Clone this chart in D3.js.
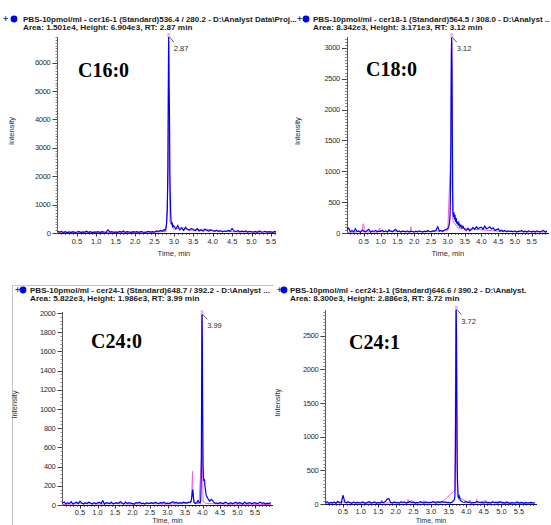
<!doctype html>
<html lang="en">
<head>
<meta charset="utf-8">
<title>Ceramide standards XIC</title>
<script src="https://cdn.jsdelivr.net/npm/d3@7"></script>
<style>
  body { margin: 0; background: #fff; }
  svg { display: block; }
</style>
</head>
<body>
<script>
// ---- data ----
var tags = ["C16:0", "C18:0", "C24:0", "C24:1"];
var headLines = [
  "PBS-10pmol/ml - cer16-1 (Standard)536.4 / 280.2 - D:\\Analyst Data\\Proj...",
  "PBS-10pmol/ml - cer18-1 (Standard)564.5 / 308.0 - D:\\Analyst ..",
  "PBS-10pmol/ml - cer24-1 (Standard)648.7 / 392.2 - D:\\Analyst ...",
  "PBS-10pmol/ml - cer24:1-1 (Standard)646.6 / 390.2 - D:\\Analyst."
];
var areaLines = [
  "Area: 1.501e4, Height: 6.904e3, RT: 2.87 min",
  "Area: 8.342e3, Height: 3.171e3, RT: 3.12 min",
  "Area: 5.822e3, Height: 1.986e3, RT: 3.99 min",
  "Area: 8.300e3, Height: 2.886e3, RT: 3.72 min"
];
var apexRT = [2.87, 3.12, 3.99, 3.72];
var apexHeight = [6904, 3171, 1986, 2886];
var yMax = [6904, 3171, 2010, 2886];

var yTicks16 = [0, 1000, 2000, 3000, 4000, 5000, 6000];
var yTicks18 = [0, 500, 1000, 1500, 2000, 2500, 3000];
var yTicks24 = [0, 200, 400, 600, 800, 1000, 1200, 1400, 1600, 1800, 2000];
var yTicks241 = [0, 500, 1000, 1500, 2000, 2500];
var xTicks = [0.5, 1.0, 1.5, 2.0, 2.5, 3.0, 3.5, 4.0, 4.5, 5.0, 5.5];

// baseline intensity, one value every 0.05 min from 0.00 to 5.95
var base16 = [60,30,55,20,45,15,40,25,50,20, 35,55,20,40,30,65,25,45,15,40,
  30,50,20,45,35,25,110,30,45,20, 40,25,55,30,70,20,45,35,25,50,
  30,45,20,55,35,25,40,60,30,45, 35,70,50,90,60,120,140,180,220,260,
  240,150,260,110,170,90,200,130,100,160, 120,80,150,70,110,60,130,90,70,110,
  80,60,95,50,85,45,70,55,90,60, 160,70,55,80,40,65,50,75,35,60,
  45,30,55,25,70,40,35,60,30,50, 40,25,55,35,30,50,25,45,35,40];
var base18 = [50,80,20,40,15,70,25,35,10,45, 30,20,40,60,15,35,25,40,20,30,
  25,45,20,35,15,50,30,20,40,60, 20,35,15,30,25,20,35,15,30,25,
  15,30,20,35,25,15,30,20,40,25, 20,35,30,45,100,30,40,25,50,60,
  70,90,150,300,500,400,300,200,150,120, 60,40,75,35,55,90,60,100,70,85,
  95,60,110,70,80,100,65,85,40,55, 70,30,45,25,40,20,35,25,30,20,
  35,15,30,25,40,20,30,15,35,25, 20,30,15,35,25,20,30,40,15,30];
var base24 = [20,30,10,25,15,35,10,20,30,15, 40,20,10,25,15,30,20,10,25,15,
  20,30,15,45,10,25,20,15,30,10, 20,25,15,35,20,10,30,15,25,20,
  15,10,25,20,30,15,20,10,25,15, 20,25,15,30,20,15,25,20,30,15,
  20,15,25,35,20,30,15,25,20,30, 25,20,30,40,25,30,20,35,25,40,
  30,45,35,25,20,30,15,25,20,15, 25,20,15,30,20,10,25,15,20,30,
  15,25,20,10,30,15,20,25,15,20, 25,15,20,30,15,25,10,20,15,25];
var base241 = [20,35,10,25,15,30,10,40,20,15, 130,30,15,35,20,10,30,15,25,20,
  15,30,20,10,25,35,15,20,30,10, 25,15,30,20,35,70,80,25,15,30,
  20,25,15,35,20,30,15,25,35,20, 30,15,25,20,35,25,15,30,20,25,
  20,35,25,15,30,20,35,25,30,20, 25,15,35,20,30,25,15,20,30,25,
  35,20,30,15,25,20,35,30,20,25, 15,30,20,25,15,35,20,25,15,30,
  20,25,15,30,20,10,25,15,20,30, 15,25,20,10,25,15,20,25,15,20];

// peak region, [time (min), intensity]
var peak16 = [[2.77,90],[2.79,160],[2.81,320],[2.83,800],[2.845,2400],[2.855,4600],
  [2.865,6904],[2.875,5200],[2.885,4400],[2.895,2300],[2.905,1400],[2.915,800],
  [2.925,450],[2.94,300],[2.955,380],[2.97,200],[2.985,260]];
var peak18 = [[3.01,80],[3.03,110],[3.05,160],[3.07,320],[3.085,900],[3.095,2000],
  [3.105,2900],[3.115,3171],[3.125,2700],[3.135,1600],[3.145,700],[3.155,320],
  [3.17,260],[3.185,330],[3.2,220],[3.215,290],[3.23,180],[3.25,240],[3.27,150],
  [3.29,190],[3.31,120],[3.33,160],[3.36,100],[3.39,130],[3.42,80],[3.45,110]];
var peak24 = [[3.65,25],[3.68,45],[3.7,100],[3.72,160],[3.74,80],[3.76,30],[3.8,15],
  [3.84,25],[3.87,45],[3.9,30],[3.93,20],[3.95,50],[3.965,300],[3.975,1200],
  [3.985,1986],[3.995,1700],[4.005,900],[4.015,420],[4.025,300],[4.04,250],
  [4.055,270],[4.07,200],[4.085,160],[4.1,110],[4.12,90],[4.15,70],[4.2,40],
  [4.25,60],[4.28,50],[4.32,30],[4.35,20]];
var peak241 = [[3.6,30],[3.63,45],[3.66,60],[3.68,120],[3.695,800],[3.705,2000],
  [3.715,2886],[3.725,2500],[3.735,1500],[3.745,600],[3.755,300],[3.77,150],
  [3.79,80],[3.81,110],[3.83,60],[3.86,40]];

// second (pink) trace, [time, intensity]
var pink16 = [[0,10],[0.6,20],[1.2,15],[1.8,25],[2.4,20],[2.8,60],[2.85,1800],
  [2.86,6904],[2.87,6700],[2.88,3000],[2.9,400],[3.0,120],[3.2,200],[3.4,90],
  [3.8,140],[4.2,60],[4.6,40],[5.2,30],[5.95,20]];
var pink18 = [[0,10],[0.3,20],[0.45,30],[0.48,150],[0.5,130],[0.52,20],[0.9,15],
  [0.98,80],[1.0,20],[1.4,30],[1.88,20],[1.9,100],[1.92,20],[2.5,25],[3.0,40],
  [3.1,1500],[3.11,3171],[3.12,3100],[3.13,1200],[3.15,200],[3.3,80],[3.8,60],
  [4.5,30],[5.2,20],[5.95,15]];
var pink24 = [[0,5],[0.5,15],[1.0,10],[1.5,15],[2.0,10],[2.5,15],[3.0,10],[3.5,15],
  [3.68,30],[3.7,200],[3.715,350],[3.73,120],[3.75,20],[3.9,15],[3.97,500],
  [3.985,2000],[4.0,1400],[4.01,200],[4.02,30],[4.05,30],[4.1,15],[4.6,10],[5.95,5]];
var pink241 = [[0,10],[0.5,30],[1.0,15],[1.58,20],[1.6,60],[1.62,15],[2.33,20],
  [2.35,70],[2.37,15],[2.45,60],[2.47,15],[2.78,20],[2.8,50],[2.82,15],[3.25,40],
  [3.27,10],[3.68,200],[3.7,2400],[3.71,2886],[3.73,1200],[3.75,100],[3.85,80],
  [4.08,20],[4.1,60],[4.12,15],[4.28,20],[4.3,70],[4.32,15],[4.55,50],[4.57,10],
  [5.0,40],[5.02,10],[5.95,10]];

// ---- layout ----
var W = 551, H = 525;
var blue = "#0000f2", pink = "#f060e0";

var svg = d3.select("body").append("svg")
            .attr("width", W)
            .attr("height", H);

var panels = [
  {base: base16, peak: peak16, pink: pink16, yTicks: yTicks16, minor: 100,
   x0: 57.5, x1: 290.3, y0: 233, y1: 37, clip: [0, 276], headClip: 297,
   plusX: 3, dotX: 14, textX: 23, headY: 19, tagX: 78, tagY: 77, ylabX: 14,
   xlabDy: 11, timeY: 256, timeSize: 7.5},
  {base: base18, peak: peak18, pink: pink18, yTicks: yTicks18, minor: 50,
   x0: 347, x1: 548.6, y0: 233, y1: 37.3, clip: [276, 551], headClip: 551,
   plusX: 297, dotX: 306, textX: 313, headY: 19, tagX: 366, tagY: 76, ylabX: 300,
   xlabDy: 11, timeY: 256, timeSize: 7.5},
  {base: base24, peak: peak24, pink: pink24, yTicks: yTicks24, minor: 40,
   x0: 62.5, x1: 272.5, y0: 505, y1: 312, clip: [13, 275], headClip: 274,
   plusX: 15, dotX: 23, textX: 30, headY: 290, tagX: 91, tagY: 348, ylabX: 17,
   xlabDy: 9.5, timeY: 523, timeSize: 7},
  {base: base241, peak: peak241, pink: pink241, yTicks: yTicks241, minor: 50,
   x0: 325.4, x1: 536.6, y0: 504, y1: 309.5, clip: [275, 551], headClip: 551,
   plusX: 277, dotX: 284, textX: 290, headY: 290, tagX: 349, tagY: 349, ylabX: 280,
   xlabDy: 9.5, timeY: 523, timeSize: 7}
];

// frame of the lower-left pane
svg.append("path")
   .attr("d", "M12.5,525 V285.5 H274")
   .attr("fill", "none")
   .attr("stroke", "#c4c4c4")
   .attr("shape-rendering", "crispEdges");

var merge = function(base, peak) {
    var lo = peak[0][0], hi = peak[peak.length - 1][0];
    var pts = base.map((v, i) => [i * 0.05, v])
                  .filter(d => d[0] < lo - 1e-9 || d[0] > hi + 1e-9);
    return pts.concat(peak).sort((a, b) => a[0] - b[0]);
};

panels.forEach(function(p, k) {
    var x = d3.scaleLinear().domain([0, 6]).range([p.x0, p.x1]);
    var y = d3.scaleLinear().domain([0, yMax[k]]).range([p.y0, p.y1]);

    var clipId = "clip" + k;
    svg.append("clipPath").attr("id", clipId)
       .append("rect")
       .attr("x", p.clip[0]).attr("y", p.headY - 10)
       .attr("width", p.clip[1] - p.clip[0]).attr("height", 262);
    var hclipId = "hclip" + k;
    svg.append("clipPath").attr("id", hclipId)
       .append("rect")
       .attr("x", p.plusX - 3).attr("y", p.headY - 10)
       .attr("width", p.headClip - p.plusX + 3).attr("height", 24);

    var g = svg.append("g").attr("clip-path", "url(#" + clipId + ")");

    // header
    var hg = svg.append("g").attr("clip-path", "url(#" + hclipId + ")");
    hg.append("text")
      .attr("x", p.plusX).attr("y", p.headY + 3)
      .attr("font-family", "Liberation Sans, Arial, sans-serif")
      .attr("font-size", "9px").attr("font-weight", "bold")
      .attr("fill", "#3a3a6a")
      .text("+");
    hg.append("circle")
      .attr("cx", p.dotX).attr("cy", p.headY)
      .attr("r", 3.4).attr("fill", "#0000f0");
    hg.append("text")
      .attr("x", p.textX).attr("y", p.headY + 3)
      .attr("font-family", "Liberation Sans, Arial, sans-serif")
      .attr("font-size", "8px").attr("font-weight", "bold")
      .attr("fill", "#1a1a1a")
      .attr("textLength", headLines[k].length * 3.75)
      .attr("lengthAdjust", "spacingAndGlyphs")
      .text(headLines[k]);
    hg.append("text")
      .attr("x", p.textX).attr("y", p.headY + 11)
      .attr("font-family", "Liberation Sans, Arial, sans-serif")
      .attr("font-size", "8px").attr("font-weight", "bold")
      .attr("fill", "#1a1a1a")
      .attr("textLength", areaLines[k].length * 3.85)
      .attr("lengthAdjust", "spacingAndGlyphs")
      .text(areaLines[k]);

    // y axis: line, minor ticks, major ticks and labels
    g.append("line")
     .attr("x1", p.x0).attr("x2", p.x0)
     .attr("y1", p.y0).attr("y2", p.y1)
     .attr("stroke", "#555").attr("shape-rendering", "crispEdges");
    g.selectAll(".ymin")
     .data(d3.range(0, yMax[k], p.minor))
     .enter().append("line")
     .attr("x1", p.x0 - 2).attr("x2", p.x0)
     .attr("y1", d => Math.round(y(d)) + 0.5).attr("y2", d => Math.round(y(d)) + 0.5)
     .attr("stroke", "#888");
    g.selectAll(".ymaj")
     .data(p.yTicks)
     .enter().append("line")
     .attr("x1", p.x0 - 5).attr("x2", p.x0)
     .attr("y1", d => Math.round(y(d)) + 0.5).attr("y2", d => Math.round(y(d)) + 0.5)
     .attr("stroke", "#444");
    g.selectAll(".ylab")
     .data(p.yTicks)
     .enter().append("text")
     .attr("x", p.x0 - 7).attr("y", d => y(d))
     .attr("dy", "0.35em")
     .attr("text-anchor", "end")
     .attr("font-family", "Liberation Sans, Arial, sans-serif")
     .attr("font-size", "7.5px").attr("letter-spacing", "-0.3px")
     .attr("fill", "#2a2a2a")
     .text(d => d);

    // x axis
    g.selectAll(".xmin")
     .data(d3.range(1, 60))
     .enter().append("line")
     .attr("x1", d => Math.round(x(d / 10)) + 0.5).attr("x2", d => Math.round(x(d / 10)) + 0.5)
     .attr("y1", p.y0).attr("y2", p.y0 + 2)
     .attr("stroke", "#777");
    g.selectAll(".xmaj")
     .data(xTicks)
     .enter().append("line")
     .attr("x1", d => Math.round(x(d)) + 0.5).attr("x2", d => Math.round(x(d)) + 0.5)
     .attr("y1", p.y0).attr("y2", p.y0 + 3.5)
     .attr("stroke", "#333");
    g.selectAll(".xlab")
     .data(xTicks)
     .enter().append("text")
     .attr("x", d => x(d)).attr("y", p.y0 + p.xlabDy)
     .attr("text-anchor", "middle")
     .attr("font-family", "Liberation Sans, Arial, sans-serif")
     .attr("font-size", "7.5px")
     .attr("fill", "#2a2a2a")
     .text(d => d3.format(".1f")(d));
    g.append("text")
     .attr("x", x(3.0)).attr("y", p.timeY)
     .attr("text-anchor", "middle")
     .attr("font-family", "Liberation Sans, Arial, sans-serif")
     .attr("font-size", p.timeSize + "px")
     .attr("fill", "#2a2a2a")
     .text("Time, min");
    svg.append("text")
       .attr("transform", "translate(" + p.ylabX + "," + ((p.y0 + p.y1) / 2 - 4) + ") rotate(-90)")
       .attr("text-anchor", "middle")
       .attr("font-family", "Liberation Sans, Arial, sans-serif")
       .attr("font-size", "7.5px")
       .attr("fill", "#2a2a2a")
       .text("Intensity");

    // traces
    var line = d3.line().x(d => x(d[0])).y(d => y(d[1]));
    g.append("path")
     .datum(p.pink)
     .attr("d", line)
     .attr("fill", "none").attr("stroke", pink).attr("stroke-width", 1);
    g.append("path")
     .datum(merge(p.base, p.peak))
     .attr("d", line)
     .attr("fill", "none").attr("stroke", blue).attr("stroke-width", 1.2);
    g.append("line")
     .attr("x1", x(0)).attr("x2", x(6))
     .attr("y1", Math.round(p.y0) + 0.5).attr("y2", Math.round(p.y0) + 0.5)
     .attr("stroke", "#101050").attr("shape-rendering", "crispEdges");

    // apex annotation
    var ax = x(apexRT[k]), ay = y(apexHeight[k]);
    g.append("rect")
     .attr("x", ax - 1.5).attr("y", ay - 4)
     .attr("width", 3).attr("height", 4)
     .attr("fill", "#f2b4f0");
    g.append("line")
     .attr("x1", ax + 0.5).attr("y1", ay)
     .attr("x2", ax + 5).attr("y2", ay + 5)
     .attr("stroke", "#333").attr("stroke-width", 0.8);
    g.append("text")
     .attr("x", ax + 5).attr("y", ay + 14)
     .attr("font-family", "Liberation Sans, Arial, sans-serif")
     .attr("font-size", "7.5px")
     .attr("fill", "#2a2a2a")
     .text(d3.format(".2f")(apexRT[k]));

    // compound label
    svg.append("text")
       .attr("x", p.tagX).attr("y", p.tagY)
       .attr("font-family", "Liberation Serif, Times New Roman, serif")
       .attr("font-size", "20px").attr("font-weight", "bold")
       .attr("fill", "#000")
       .text(tags[k]);
});
</script>
</body>
</html>
